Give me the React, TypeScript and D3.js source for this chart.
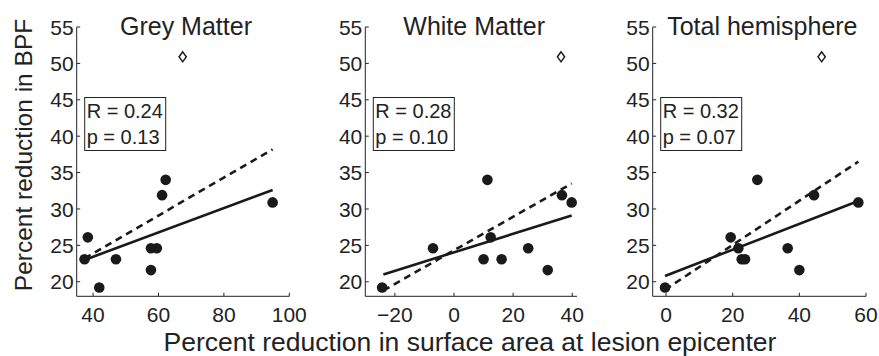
import React from 'react';
import * as d3 from 'd3';

// BPF reduction (same subjects in every panel)
const bpfReduction = [23.1, 26.1, 19.2, 23.1, 24.6, 24.6, 21.6, 31.9, 34.0, 30.9];
const outlierBpf = 50.9;

// surface area reduction at lesion epicenter, per tissue type
const greyArea = [37.4, 38.4, 41.9, 47.0, 57.7, 59.5, 57.7, 61.1, 62.2, 94.9];
const whiteArea = [10.0, 12.4, -24.3, 16.1, -7.1, 25.1, 31.7, 36.5, 11.3, 39.8];
const totalArea = [22.7, 19.4, -0.3, 23.7, 21.7, 36.5, 40.0, 44.4, 27.4, 57.7];
const outlierArea = [67.4, 36.2, 46.7];

const panelTitles = ['Grey Matter', 'White Matter', 'Total hemisphere'];
const rValues = ['0.24', '0.28', '0.32'];
const pValues = ['0.13', '0.10', '0.07'];

// fit lines: [x0, y0, x1, y1] in data units
const solidFits = [
  [37.4, 23.0, 94.9, 32.6],
  [-23.9, 21.0, 39.8, 29.1],
  [-0.3, 20.8, 57.7, 31.1],
];
const dashedFits = [
  [37.4, 23.2, 94.9, 38.2],
  [-23.9, 18.8, 39.8, 33.5],
  [-0.3, 18.9, 57.7, 36.5],
];

const xDomains: [number, number][] = [[35, 100], [-30, 41.6], [-4, 60]];
const xTicks = [[40, 60, 80, 100], [-20, 0, 20, 40], [0, 20, 40, 60]];
const yTicks = [20, 25, 30, 35, 40, 45, 50, 55];

const W = 879;
const H = 356;
const top = 27;
const bottom = 296.3;
const panelX: [number, number][] = [[76.7, 289.3], [365.3, 577], [652.7, 866]];
const font = '"Liberation Sans", Arial, Helvetica, sans-serif';
const ink = '#1a1a1a';

const y = d3.scaleLinear().domain([18, 55]).range([bottom, top]);
const fmt = d3.format('');

function Panel({ i }: { i: number }) {
  const [x0, x1] = panelX[i];
  const x = d3.scaleLinear().domain(xDomains[i]).range([x0, x1]);
  const areas = [greyArea, whiteArea, totalArea][i];
  const pts = areas.map((a, k) => [a, bpfReduction[k]]);
  const line = d3.line<number[]>().x(d => x(d[0])).y(d => y(d[1]));
  const s = solidFits[i];
  const ds = dashedFits[i];
  const ox = x(outlierArea[i]);
  const oy = y(outlierBpf);
  const diamond = `M${ox},${oy - 5}L${ox + 3.6},${oy}L${ox},${oy + 5}L${ox - 3.6},${oy}Z`;
  return (
    <g>
      {/* axes */}
      <line x1={x0} x2={x0} y1={top} y2={bottom} stroke="#222" strokeWidth={1} />
      <line x1={x0} x2={x1} y1={bottom} y2={bottom} stroke="#222" strokeWidth={1} />
      {yTicks.map(t => (
        <g key={'y' + t}>
          <line x1={x0} x2={x0 + 3.5} y1={y(t)} y2={y(t)} stroke="#222" />
          <text x={x0 - 3} y={y(t)} dy="0.36em" textAnchor="end" fontSize={21} fill="#222">
            {t}
          </text>
        </g>
      ))}
      {xTicks[i].map(t => (
        <g key={'x' + t}>
          <line x1={x(t)} x2={x(t)} y1={bottom} y2={bottom - 3.5} stroke="#222" />
          <text x={x(t)} y={321.5} textAnchor="middle" fontSize={21} fill="#222">
            {fmt(t)}
          </text>
        </g>
      ))}
      <text x={(x0 + x1) / 2 + 3} y={34.5} textAnchor="middle" fontSize={25} fill="#222">
        {panelTitles[i]}
      </text>
      {/* stats box */}
      <rect x={x0 + 8} y={97.5} width={81} height={53} fill="#fff" stroke="#222" strokeWidth={1} />
      <text x={x0 + 10} y={118} fontSize={20} fill="#222">R = {rValues[i]}</text>
      <text x={x0 + 10} y={144} fontSize={20} fill="#222">p = {pValues[i]}</text>
      {/* fits */}
      <path d={line([[ds[0], ds[1]], [ds[2], ds[3]]]) || ''} stroke={ink} strokeWidth={2.6}
        strokeDasharray="7,5" fill="none" />
      <path d={line([[s[0], s[1]], [s[2], s[3]]]) || ''} stroke={ink} strokeWidth={2.6} fill="none" />
      {pts.map((p, k) => (
        <circle key={k} cx={x(p[0])} cy={y(p[1])} r={5.3} fill={ink} />
      ))}
      <path d={diamond} fill="#fff" stroke={ink} strokeWidth={1.5} />
    </g>
  );
}

export default function App() {
  return (
    <svg width={W} height={H} style={{ position: 'absolute', left: 0, top: 0, background: '#fff' }}
      fontFamily={font}>
      {[0, 1, 2].map(i => <Panel key={i} i={i} />)}
      <text transform={`translate(32,155) rotate(-90)`} textAnchor="middle"
        fontSize={24.5} fill="#222">
        Percent reduction in BPF
      </text>
      <text x={470} y={351} textAnchor="middle" fontSize={26.5} fill="#222">
        Percent reduction in surface area at lesion epicenter
      </text>
    </svg>
  );
}
